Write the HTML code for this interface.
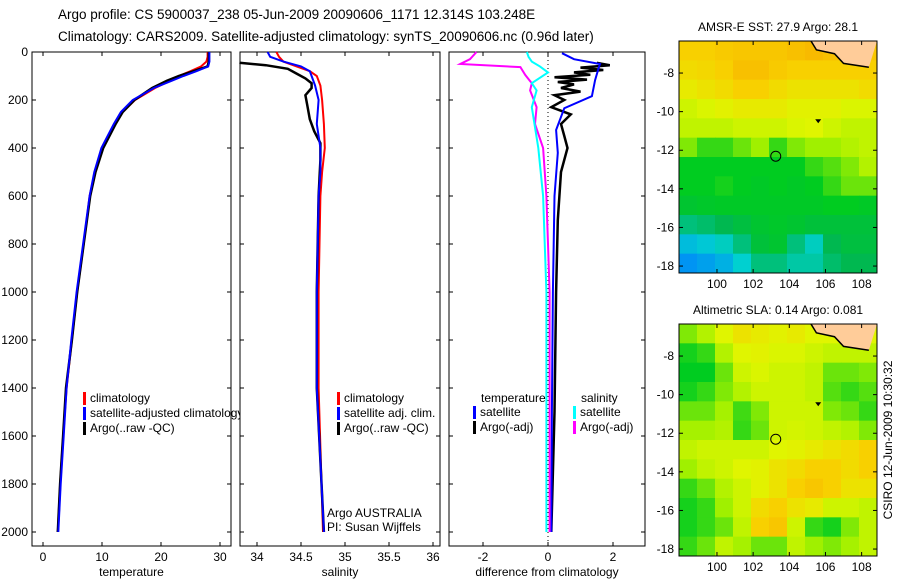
<!DOCTYPE html>
<html><head><meta charset="utf-8">
<style>
body{margin:0;background:#fff;}
svg{display:block;font-family:"Liberation Sans",sans-serif;}
text{font-size:12px;fill:#000;}
</style></head>
<body>
<svg id="c" width="900" height="580" viewBox="0 0 900 580">
<text x="58" y="19" style="font-size:13.5px">Argo profile: CS 5900037_238 05-Jun-2009 20090606_1171 12.314S 103.248E</text>
<text x="58" y="41" style="font-size:13.5px">Climatology: CARS2009. Satellite-adjusted climatology: synTS_20090606.nc (0.96d later)</text>
<text x="892" y="440" transform="rotate(-90 892 440)" text-anchor="middle">CSIRO 12-Jun-2009 10:30:32</text>
</svg>
<script>
// ---------- data ----------
const tDepth=[0,20,40,60,80,100,120,150,200,250,300,400,500,600,800,1000,1200,1400,1600,1800,2000];
const tClim=[27.9,27.9,27.7,26.8,25,23,21.5,19,15.6,13.5,12.2,10,8.8,7.9,6.9,5.8,4.9,4.0,3.4,2.9,2.5];
const tSat=[28.2,28.2,28.2,28,26,23.8,21.8,18.8,15.2,13.2,12,9.9,8.7,7.9,6.8,5.7,4.8,4.0,3.5,3.0,2.6];
const tArgo=[28.1,28.1,28.1,27.9,25.5,23,21,18.5,15.5,13.5,12.3,10.2,8.9,8,6.9,5.8,4.9,3.9,3.4,2.9,2.5];
const sDepthC=[0,20,40,60,80,100,140,200,300,400,500,600,1000,1400,2000];
const sClim=[34.22,34.25,34.3,34.45,34.6,34.68,34.72,34.74,34.76,34.77,34.74,34.72,34.7,34.7,34.75];
const sSat=[34.12,34.15,34.3,34.5,34.6,34.62,34.66,34.7,34.68,34.72,34.72,34.7,34.68,34.68,34.76];
const sDepthA=[45,55,70,90,110,130,150,180,220,280,330,380,450,600,1000,1400,2000];
const sArgo=[33.8,34.1,34.35,34.45,34.55,34.62,34.62,34.55,34.57,34.6,34.65,34.72,34.72,34.7,34.68,34.68,34.76];
const dDepthT=[5,30,50,70,117,184,234,325,420,600,1000,1500,2000];
const dSatT=[0.43,0.8,1.6,1.55,1.45,1.35,0.5,0.25,0.3,0.2,0.15,0.12,0.1];
const dDepthA=[45,55,65,75,85,95,105,115,125,135,150,165,180,200,230,260,300,350,400,500,700,1000,1500,2000];
const dArgoT=[1.5,1.9,1.0,1.7,0.8,1.3,0.2,1.2,0.3,0.8,0.4,1.0,0.2,0.5,0.1,0.7,0.4,0.5,0.6,0.4,0.3,0.25,0.2,0.1];
const dDepthS=[0,20,40,60,85,130,160,230,400,600,1000,1500,2000];
const dSatS=[-0.65,-0.6,-0.5,-0.25,0,-0.5,-0.35,-0.5,-0.3,-0.15,-0.05,-0.05,-0.05];
const dDepthM=[0,30,50,63,96,130,160,230,300,400,600,1000,2000];
const dArgoS=[-2.2,-2.4,-2.7,-0.85,-0.7,-0.5,-0.55,-0.35,-0.4,-0.15,-0.05,0.05,0.05];
const depthTicks=[0,200,400,600,800,1000,1200,1400,1600,1800,2000];
const tTicks=[0,10,20,30];
const sTicks=[34,34.5,35,35.5,36];
const dTicks=[-2,0,2];
const lonTicks=[100,102,104,106,108];
const latTicks=[-8,-10,-12,-14,-16,-18];
const sstGrid=[
[0.85,0.85,0.87,0.88,0.88,0.88,0.9,0.92,0.9,0.88,0.88],
[0.82,0.83,0.85,0.9,0.9,0.87,0.85,0.85,0.85,0.85,0.85],
[0.78,0.8,0.82,0.85,0.85,0.82,0.8,0.8,0.8,0.8,0.82],
[0.72,0.74,0.76,0.78,0.78,0.78,0.76,0.76,0.76,0.74,0.74],
[0.7,0.7,0.7,0.72,0.72,0.72,0.74,0.75,0.72,0.7,0.7],
[0.62,0.55,0.55,0.6,0.65,0.55,0.62,0.65,0.65,0.68,0.7],
[0.5,0.5,0.5,0.5,0.5,0.5,0.5,0.55,0.58,0.62,0.68],
[0.5,0.5,0.52,0.5,0.48,0.5,0.48,0.5,0.55,0.6,0.6],
[0.45,0.47,0.48,0.48,0.48,0.48,0.48,0.48,0.5,0.5,0.48],
[0.3,0.32,0.35,0.4,0.45,0.47,0.45,0.42,0.42,0.42,0.42],
[0.15,0.18,0.22,0.3,0.42,0.45,0.3,0.22,0.35,0.4,0.4],
[0.05,0.08,0.12,0.2,0.3,0.3,0.25,0.25,0.32,0.35,0.35]];
const slaGrid=[
[0.62,0.68,0.75,0.8,0.78,0.76,0.78,0.75,0.75,0.75,0.75],
[0.52,0.55,0.68,0.75,0.76,0.74,0.74,0.72,0.7,0.7,0.7],
[0.5,0.5,0.6,0.72,0.74,0.72,0.72,0.7,0.6,0.6,0.62],
[0.52,0.55,0.62,0.68,0.72,0.72,0.72,0.7,0.58,0.55,0.58],
[0.6,0.6,0.66,0.56,0.62,0.72,0.72,0.72,0.62,0.6,0.55],
[0.66,0.66,0.68,0.55,0.6,0.72,0.73,0.72,0.7,0.68,0.62],
[0.7,0.72,0.72,0.72,0.72,0.75,0.76,0.78,0.8,0.82,0.85],
[0.65,0.7,0.72,0.75,0.76,0.8,0.82,0.85,0.85,0.82,0.85],
[0.55,0.6,0.68,0.72,0.76,0.8,0.85,0.88,0.85,0.8,0.8],
[0.52,0.55,0.65,0.72,0.82,0.85,0.8,0.78,0.72,0.72,0.7],
[0.52,0.55,0.6,0.7,0.85,0.88,0.72,0.55,0.52,0.62,0.7],
[0.55,0.6,0.7,0.66,0.6,0.6,0.7,0.65,0.62,0.66,0.7]];
const coastLon=[105.2,105.5,106.5,107,108.4];
const coastLat=[-6.34,-6.8,-7.0,-7.5,-7.7];
const floatLon=103.25, floatLat=-12.31;

// ---------- helpers ----------
const NS='http://www.w3.org/2000/svg';
const svg=document.getElementById('c');
function mk(tag,attrs,parent){const e=document.createElementNS(NS,tag);for(const k in attrs)e.setAttribute(k,attrs[k]);(parent||svg).appendChild(e);return e;}
const Y=d=>52+d*0.24;
const xT=v=>43+v*5.9;
const xS=v=>257+(v-34)*88;
const xD=v=>548+v*32.5;

function panel(name,x0,x1,xf,ticks,fmt,label,showY){
  const g=mk('g',{});
  
  
  mk('rect',{x:x0,y:52,width:x1-x0,height:494,fill:'#fff',stroke:'#000','stroke-width':1},g);
  depthTicks.forEach(d=>{
    mk('line',{x1:x0,x2:x0+4,y1:Y(d),y2:Y(d),stroke:'#000'},g);
    mk('line',{x1:x1-4,x2:x1,y1:Y(d),y2:Y(d),stroke:'#000'},g);
    if(showY){const t=mk('text',{x:x0-4,y:Y(d)+4,'text-anchor':'end'},g);t.textContent=d;}
  });
  ticks.forEach(v=>{
    const x=xf(v);
    mk('line',{x1:x,x2:x,y1:546,y2:542,stroke:'#000'},g);
    mk('line',{x1:x,x2:x,y1:52,y2:56,stroke:'#000'},g);
    const t=mk('text',{x:x,y:561,'text-anchor':'middle'},g);t.textContent=fmt(v);
  });
  const l=mk('text',{x:(x0+x1)/2,y:576,'text-anchor':'middle'},g);l.textContent=label;
  return g;
}
function line(name,xs,ds,xf,color,w,g){
  const p=xs.map((v,i)=>xf(v).toFixed(1)+','+Y(ds[i]).toFixed(1)).join(' ');
  const e=mk('polyline',{points:p,fill:'none',stroke:color,'stroke-width':w||2},g);
  
  
}
function legend(g,x,y,items){
  items.forEach((it,i)=>{
    mk('rect',{x:x,y:y+i*15-10,width:3,height:13,fill:it[1]},g);
    const t=mk('text',{x:x+7,y:y+i*15},g);t.textContent=it[0];
  });
}

// temperature panel
const g1=panel('temperature-panel',32,231,xT,tTicks,v=>v,'temperature',true);
line('temp-climatology',tClim,tDepth,xT,'#f00',2,g1);
line('temp-argo',tArgo,tDepth,xT,'#000',2.5,g1);
line('temp-satellite',tSat,tDepth,xT,'#00f',2,g1);
legend(g1,83,402,[['climatology','#f00'],['satellite-adjusted climatology','#00f'],['Argo(..raw -QC)','#000']]);

// salinity panel
const g2=panel('salinity-panel',240,440,xS,sTicks,v=>v,'salinity',false);
line('sal-climatology',sClim,sDepthC,xS,'#f00',2,g2);
line('sal-argo',sArgo,sDepthA,xS,'#000',2.5,g2);
line('sal-satellite',sSat,sDepthC,xS,'#00f',2,g2);
legend(g2,337,402,[['climatology','#f00'],['satellite adj. clim.','#00f'],['Argo(..raw -QC)','#000']]);
const n1=mk('text',{x:327,y:517},g2);n1.textContent='Argo AUSTRALIA';
const n2=mk('text',{x:327,y:531},g2);n2.textContent='PI: Susan Wijffels';

// difference panel
const g3=panel('difference-panel',449,645,xD,dTicks,v=>v,'difference from climatology',false);
mk('line',{x1:xD(0),x2:xD(0),y1:52,y2:546,stroke:'#000','stroke-dasharray':'1,3'},g3);
line('diff-temp-argo',dArgoT,dDepthA,xD,'#000',2.5,g3);
line('diff-temp-satellite',dSatT,dDepthT,xD,'#00f',2,g3);
line('diff-sal-argo',dArgoS,dDepthM,xD,'#f0f',2,g3);
line('diff-sal-satellite',dSatS,dDepthS,xD,'#0ff',2,g3);
const lt=mk('text',{x:481,y:402},g3);lt.textContent='temperature';
const ls=mk('text',{x:581,y:402},g3);ls.textContent='salinity';
legend(g3,473,416,[['satellite','#00f'],['Argo(-adj)','#000']]);
legend(g3,573,416,[['satellite','#0ff'],['Argo(-adj)','#f0f']]);

// maps
const stops=[[0,[0,128,255]],[0.2,[0,208,208]],[0.35,[0,184,80]],[0.5,[0,204,32]],[0.65,[160,240,0]],[0.75,[224,245,0]],[0.85,[248,208,0]],[1,[248,160,0]]];
function cmap(v){for(let i=1;i<stops.length;i++){if(v<=stops[i][0]){const a=stops[i-1],b=stops[i],f=(v-a[0])/(b[0]-a[0]);const c=a[1].map((x,k)=>Math.round(x+(b[1][k]-x)*f));return 'rgb('+c+')';}}return 'rgb(248,160,0)';}
function map(name,top,grid,title){
  const x0=679,x1=877,y0=top,y1=top+232;
  const lonMin=97.9,lonMax=108.85,latMax=-6.34,latMin=-18.36;
  const X=l=>x0+(l-lonMin)/(lonMax-lonMin)*(x1-x0);
  const Ym=l=>y0+(latMax-l)/(latMax-latMin)*(y1-y0);
  const g=mk('g',{});
  
  
  const nr=grid.length,nc=grid[0].length,cw=(x1-x0)/nc,ch=(y1-y0)/nr;
  grid.forEach((row,r)=>row.forEach((v,c)=>{
    const e=mk('rect',{x:x0+c*cw,y:y0+r*ch,width:cw+0.5,height:ch+0.5,fill:cmap(v)},g);
    
    
  }));
  const cp=coastLon.map((l,i)=>X(l)+','+Ym(coastLat[i])).join(' ');
  mk('polygon',{points:cp+' '+x1+','+y0,fill:'#fc9',stroke:'none'},g);
  mk('polyline',{points:cp,fill:'none',stroke:'#000','stroke-width':1.5},g);
  mk('path',{d:`M${X(105.6)-3},${Ym(-10.5)-2}h6l-3,4z`,fill:'#000'},g);
  const fc=mk('circle',{cx:X(floatLon),cy:Ym(floatLat),r:5,fill:'none',stroke:'#000'},g);
  
  
  mk('rect',{x:x0,y:y0,width:x1-x0,height:y1-y0,fill:'none',stroke:'#000'},g);
  lonTicks.forEach(l=>{const x=X(l);mk('line',{x1:x,x2:x,y1:y1,y2:y1-4,stroke:'#000'},g);mk('line',{x1:x,x2:x,y1:y0,y2:y0+4,stroke:'#000'},g);
    const t=mk('text',{x:x,y:y1+15,'text-anchor':'middle'},g);t.textContent=l;});
  latTicks.forEach(l=>{const y=Ym(l);mk('line',{x1:x0,x2:x0+4,y1:y,y2:y,stroke:'#000'},g);mk('line',{x1:x1-4,x2:x1,y1:y,y2:y,stroke:'#000'},g);
    const t=mk('text',{x:x0-5,y:y+4,'text-anchor':'end'},g);t.textContent=l;});
  const t=mk('text',{x:(x0+x1)/2,y:top-10,'text-anchor':'middle'},g);t.textContent=title;
}
map('sst-map',41,sstGrid,'AMSR-E SST: 27.9 Argo: 28.1');
map('sla-map',324,slaGrid,'Altimetric SLA: 0.14 Argo: 0.081');
</script>
</body></html>
